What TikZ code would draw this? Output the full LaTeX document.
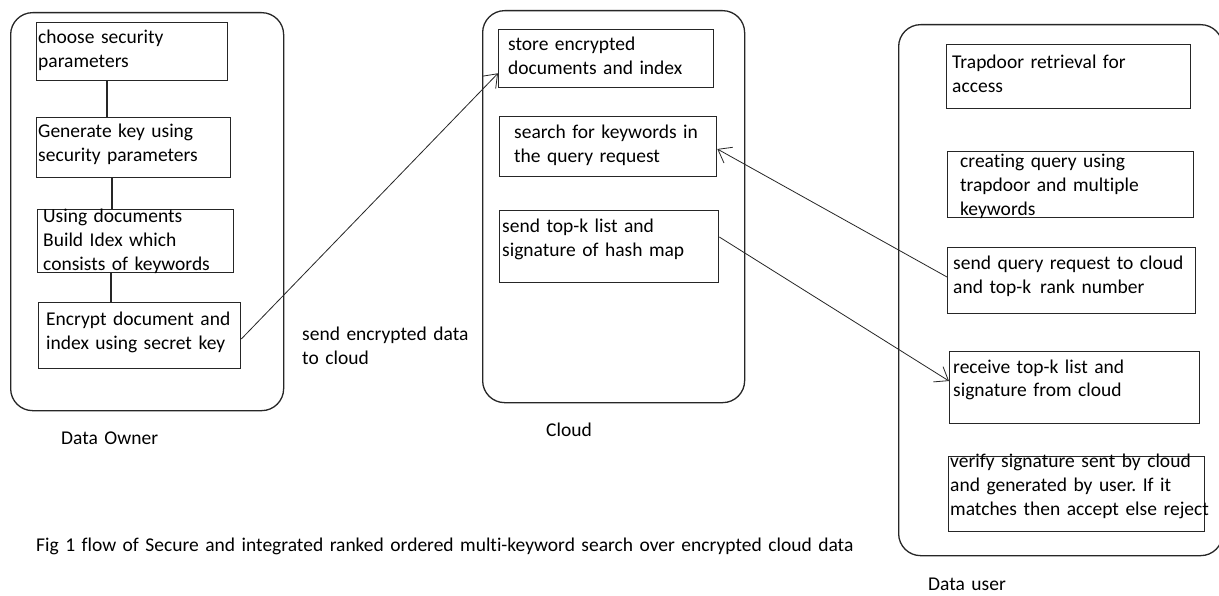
\documentclass[tikz,border=0pt]{standalone}
\usepackage{fontspec}
\setmainfont[Ligatures={NoCommon}]{Carlito}
\usetikzlibrary{arrows.meta,calc}
\frenchspacing
\begin{document}
\begin{tikzpicture}[x=1pt,y=-1pt,
  container/.style={draw=black!85, line width=1.3pt, rounded corners=22pt, inner sep=0pt, anchor=north west},
  boxnode/.style={draw=black!85, line width=1.3pt, rectangle, inner sep=0pt, anchor=north west},
  txt/.style={anchor=base west, inner sep=0pt, text width=330pt, align=left, font=\fontsize{19.5}{24}\selectfont\frenchspacing},
  link/.style={draw=black!85, line width=1.1pt},
  arr/.style={draw=black!85, line width=0.8pt, -{Straight Barb[length=12pt,width=18pt,line width=0.8pt]}}]
\fill[white] (0,0) rectangle (1219,596);
\useasboundingbox (0,0) rectangle (1219,596);
% containers
\node[container, minimum width=273pt, minimum height=398pt] (owner) at (10,12) {};
\node[container, minimum width=262pt, minimum height=392pt] (cloud) at (482,10) {};
\node[container, minimum width=324pt, minimum height=531pt] (user) at (898,24) {};
% data owner boxes
\node[boxnode, minimum width=191pt, minimum height=58pt] (do1) at (36,22) {};
\node[boxnode, minimum width=194pt, minimum height=60pt] (do2) at (36,117) {};
\node[boxnode, minimum width=196pt, minimum height=63pt] (do3) at (37,209) {};
\node[boxnode, minimum width=202pt, minimum height=66pt] (do4) at (38,302) {};
% cloud boxes
\node[boxnode, minimum width=215pt, minimum height=58pt] (cl1) at (498,29) {};
\node[boxnode, minimum width=217pt, minimum height=60pt] (cl2) at (499,116) {};
\node[boxnode, minimum width=219pt, minimum height=72pt] (cl3) at (499,210) {};
% data user boxes
\node[boxnode, minimum width=244pt, minimum height=64pt] (du1) at (946,44) {};
\node[boxnode, minimum width=246pt, minimum height=66pt] (du2) at (947,151) {};
\node[boxnode, minimum width=248pt, minimum height=66pt] (du3) at (947,247) {};
\node[boxnode, minimum width=250pt, minimum height=72pt] (du4) at (949,351) {};
\node[boxnode, minimum width=256pt, minimum height=75pt] (du5) at (948,456) {};
% texts
\node[txt] (tdo1) at (38,44) {choose security\\parameters};
\node[txt] (tdo2) at (38,138) {Generate key using\\security parameters};
\node[txt] (tdo3) at (43,223) {Using documents\\Build Idex which\\consists of keywords};
\node[txt] (tdo4) at (46,326) {Encrypt document and\\index using secret key};
\node[txt] (tcl1) at (508,51) {store encrypted\\documents and index};
\node[txt] (tcl2) at (514,139) {search for keywords in\\the query request};
\node[txt] (tcl3) at (502,233) {send top-k list and\\signature of hash map};
\node[txt] (tdu1) at (952,69) {Trapdoor retrieval for\\access};
\node[txt] (tdu2) at (960,168) {creating query using\\trapdoor and multiple\\keywords};
\node[txt] (tdu3) at (953,270) {send query request to cloud\\and top-k\hspace{9pt}rank number};
\node[txt] (tdu4) at (953,373) {receive top-k list and\\signature from cloud};
\node[txt] (tdu5) at (950,467) {verify signature sent by cloud\\and generated by user. If it\\matches then accept else reject};
% labels
\node[txt] (lsend) at (302,341) {send encrypted data\\to cloud};
\node[txt] (lowner) at (61,444) {Data Owner};
\node[txt] (lcloud) at (546,436) {Cloud};
\node[txt] (luser) at (928,590) {Data user};
\node[txt, text width=900pt] (caption) at (36,551) {Fig 1 flow of Secure and integrated ranked ordered multi-keyword search over encrypted cloud data};
% links in data owner
\draw[link] ([xshift=71pt]do1.south west) -- ([xshift=71pt]do2.north west);
\draw[link] ([xshift=76pt]do2.south west) -- ([xshift=75pt]do3.north west);
\draw[link] ([xshift=74pt]do3.south west) -- ([xshift=73pt]do4.north west);
% arrows
\draw[arr] ($(do4.north east)+(0,37)$) -- ($(cl1.south west)+(0,-15)$);
\draw[arr] ($(du3.north west)+(0,30)$) -- ($(cl2.north east)+(0,33)$);
\draw[arr] ($(cl3.north east)+(0,27)$) -- ($(du4.north west)+(0,30)$);
\end{tikzpicture}
\end{document}
